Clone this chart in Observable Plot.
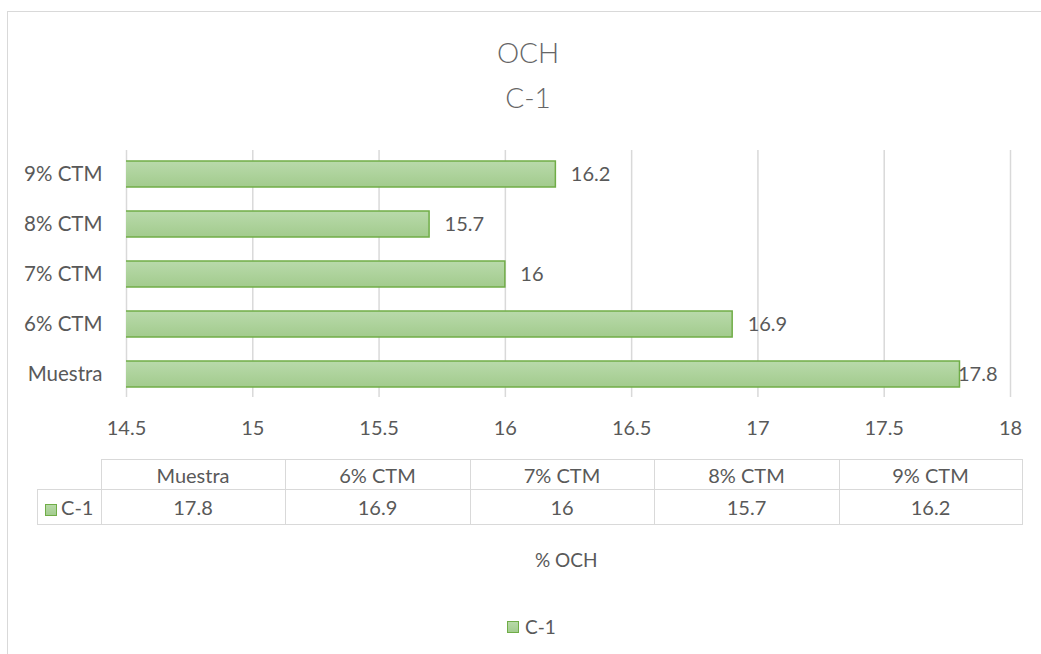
<!DOCTYPE html>
<html>
<head>
<meta charset="utf-8">
<script src="https://cdn.jsdelivr.net/npm/d3@7"></script>
<script src="https://cdn.jsdelivr.net/npm/@observablehq/plot@0.6"></script>
<style>
  html, body { margin: 0; padding: 0; background: #fff; overflow: hidden; }
  #root { position: relative; width: 1041px; height: 654px; font-family: Lato, "Open Sans", sans-serif; color: #595959; }
  #frame { position: absolute; left: 7px; top: 11px; width: 1100px; height: 700px; border: 1.5px solid #d9d9d9; box-sizing: border-box; }
  .title { position: absolute; left: 0; width: 1056px; text-align: center; font-size: 28px; font-weight: 300; color: #666; line-height: 1; }
  #plot { position: absolute; left: 0; top: 0; }
  #tbl { position: absolute; left: 37px; top: 459px; border-collapse: collapse; font-size: 20px; color: #595959; table-layout: fixed; width: 979px; }
  #tbl td { border: 1.5px solid #d9d9d9; text-align: center; padding: 0; }
  #axtitle { position: absolute; left: 535px; top: 548px; font-size: 19px; color: #595959; }
  #legend { position: absolute; left: 507px; top: 615px; font-size: 19px; color: #595959; display: flex; align-items: center; }
  .sw { display: inline-block; width: 10px; height: 10px; background: linear-gradient(#b7d9a8, #a3cc8f); border: 1.5px solid #70ad47; margin-right: 6px; }
</style>
</head>
<body>
<div id="root">
  <div id="frame"></div>
  <div class="title" style="top:38px">OCH</div>
  <div class="title" style="top:83px">C-1</div>
  <div id="plot"></div>
  <table id="tbl"></table>
  <div id="axtitle"></div>
  <div id="legend"></div>
</div>
<script>
const categories = ["Muestra", "6% CTM", "7% CTM", "8% CTM", "9% CTM"];
const values = [17.8, 16.9, 16, 15.7, 16.2];
const seriesName = "C-1";
const chartTitle = ["OCH", "C-1"];
const axisTitle = "% OCH";
const xTicks = [14.5, 15, 15.5, 16, 16.5, 17, 17.5, 18];

const data = categories.map((c, i) => ({category: c, value: values[i]}));

const gradientDefs = () => {
  const ns = "http://www.w3.org/2000/svg";
  const defs = document.createElementNS(ns, "defs");
  const lg = document.createElementNS(ns, "linearGradient");
  lg.setAttribute("id", "barGrad");
  lg.setAttribute("x1", "0"); lg.setAttribute("y1", "0");
  lg.setAttribute("x2", "0"); lg.setAttribute("y2", "1");
  [["0%", "#b9daab"], ["100%", "#a2cb8d"]].forEach(([o, c]) => {
    const s = document.createElementNS(ns, "stop");
    s.setAttribute("offset", o); s.setAttribute("stop-color", c);
    lg.appendChild(s);
  });
  defs.appendChild(lg);
  return defs;
};

const chart = Plot.plot({
  width: 1041,
  height: 450,
  marginLeft: 126,
  marginRight: 31,
  marginTop: 150,
  marginBottom: 53,
  style: {fontFamily: "Lato, 'Open Sans', sans-serif", fontSize: "20px", color: "#595959", background: "transparent"},
  x: {domain: [xTicks[0], xTicks[xTicks.length - 1]], ticks: xTicks, grid: false, label: null},
  y: {domain: categories.slice().reverse(), paddingInner: 0.48, paddingOuter: 0.21, label: null},
  marks: [
    gradientDefs,
    Plot.gridX(xTicks, {stroke: "#d9d9d9", strokeOpacity: 1, strokeWidth: 1.5}),
    Plot.barX(data, {x: "value", y: "category", fill: "url(#barGrad)", stroke: "#70ad47", strokeWidth: 1.5, clip: true}),
    Plot.text(data, {filter: d => d.value < 17.5, x: "value", y: "category", text: d => String(d.value), textAnchor: "start", dx: 15, fill: "#595959", fontSize: 20}),
    Plot.text(data, {filter: d => d.value >= 17.5, x: "value", y: "category", text: d => String(d.value), textAnchor: "start", dx: -2, fill: "#595959", fontSize: 20}),
    Plot.axisX({ticks: xTicks, tickSize: 0, tickPadding: 23, tickFormat: d => String(d), fill: "#595959", fontSize: 20, label: null}),
    Plot.axisY({tickSize: 0, tickPadding: 24, fill: "#595959", fontSize: 20.5, label: null})
  ]
});
document.getElementById("plot").appendChild(chart);

// data table
const colW = [63, 183, 184, 183, 184, 182];
const tbl = document.getElementById("tbl");
const r1 = document.createElement("tr");
r1.style.height = "30px";
const blank = document.createElement("td");
blank.style.borderTop = "none"; blank.style.borderLeft = "none";
blank.style.width = colW[0] + "px";
r1.appendChild(blank);
categories.forEach((c, i) => {
  const td = document.createElement("td");
  td.textContent = c; td.style.width = colW[i + 1] + "px";
  r1.appendChild(td);
});
const r2 = document.createElement("tr");
r2.style.height = "35px";
const lab = document.createElement("td");
lab.innerHTML = '<span class="sw" style="vertical-align:-1px;margin-right:4px"></span>' + seriesName;
r2.appendChild(lab);
values.forEach(v => {
  const td = document.createElement("td");
  td.textContent = String(v);
  r2.appendChild(td);
});
tbl.appendChild(r1); tbl.appendChild(r2);

document.getElementById("axtitle").textContent = axisTitle;
document.getElementById("legend").innerHTML = '<span class="sw"></span>' + seriesName;
document.querySelectorAll(".title")[0].textContent = chartTitle[0];
document.querySelectorAll(".title")[1].textContent = chartTitle[1];
</script>
</body>
</html>
